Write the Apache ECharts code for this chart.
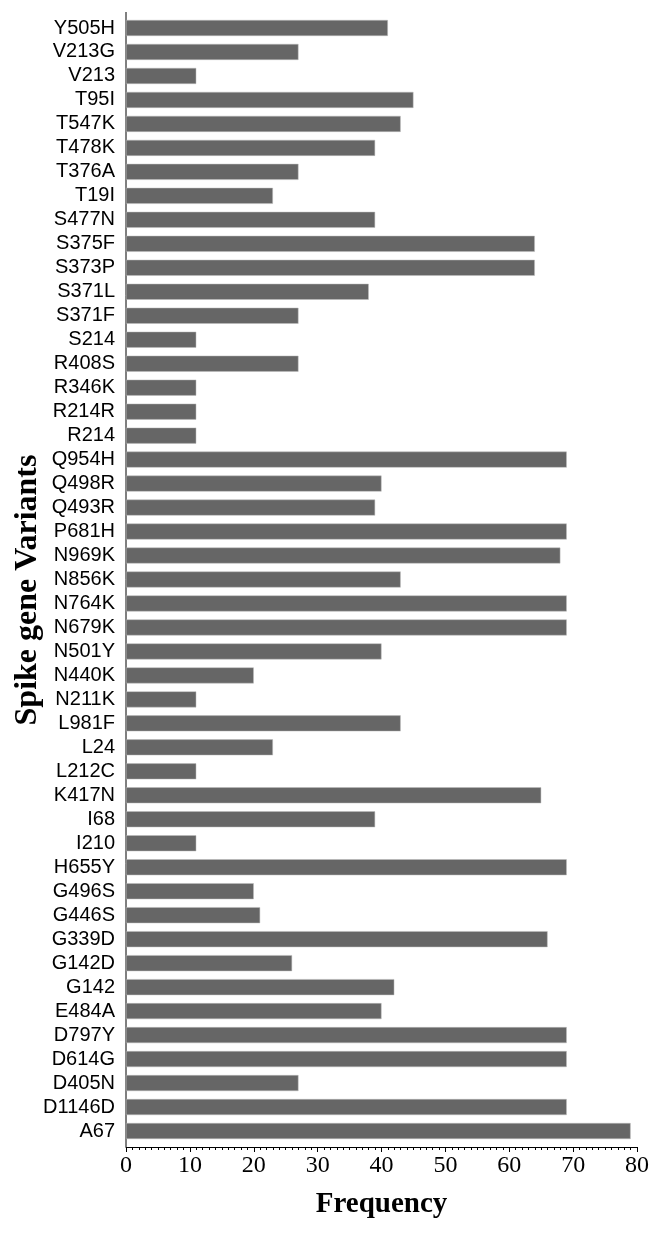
<!DOCTYPE html>
<html>
<head>
<meta charset="utf-8">
<script src="https://cdn.jsdelivr.net/npm/echarts@6/dist/echarts.min.js"></script>
<style>
html,body{margin:0;padding:0;background:#fff;}
#chart{width:664px;height:1235px;}
</style>
</head>
<body>
<div id="chart"></div>
<script>
var variants = ["Y505H","V213G","V213","T95I","T547K","T478K","T376A","T19I","S477N","S375F","S373P","S371L","S371F","S214","R408S","R346K","R214R","R214","Q954H","Q498R","Q493R","P681H","N969K","N856K","N764K","N679K","N501Y","N440K","N211K","L981F","L24","L212C","K417N","I68","I210","H655Y","G496S","G446S","G339D","G142D","G142","E484A","D797Y","D614G","D405N","D1146D","A67"];
var frequency = [41,27,11,45,43,39,27,23,39,64,64,38,27,11,27,11,11,11,69,40,39,69,68,43,69,69,40,20,11,43,23,11,65,39,11,69,20,21,66,26,42,40,69,69,27,69,79];
var xTicks = {min:0, max:80, interval:10};

var chart = echarts.init(document.getElementById('chart'), null, {renderer:'canvas'});
chart.setOption({
  animation:false,
  backgroundColor:'#ffffff',
  grid:{left:126, right:27, top:16, bottom:92, containLabel:false},
  xAxis:{
    type:'value', min:xTicks.min, max:xTicks.max, interval:xTicks.interval,
    offset:4,
    name:'Frequency', nameLocation:'middle', nameGap:43,
    nameTextStyle:{fontFamily:'Liberation Serif', fontWeight:'bold', fontSize:29, color:'#000'},
    axisLine:{show:true, lineStyle:{color:'#000', width:1}},
    axisTick:{show:true, inside:false, length:5, lineStyle:{color:'#000'}},
    minorTick:{show:true, splitNumber:10, length:3, lineStyle:{color:'#000'}},
    splitLine:{show:false},
    axisLabel:{fontFamily:'Liberation Serif', fontSize:24, color:'#000', margin:7}
  },
  yAxis:{
    type:'category', data:variants, inverse:true,
    axisLine:{show:false},
    axisTick:{show:false},
    axisLabel:{interval:0, fontFamily:'Liberation Sans', fontSize:20, color:'#000', margin:11}
  },
  graphic:[
    {type:'line', shape:{x1:126, y1:12, x2:126, y2:1147}, style:{stroke:'#000', lineWidth:1}},
    {type:'text', x:28, y:590, rotation:Math.PI/2,
     style:{text:'Spike gene Variants', fontFamily:'Liberation Serif', fontWeight:'bold', fontSize:32, fill:'#000', align:'center', verticalAlign:'middle'}}
  ],
  series:[{
    type:'bar', data:frequency, barWidth:16,
    itemStyle:{color:'#666666', borderColor:'#bdbdbd', borderWidth:0.5}
  }]
});
</script>
</body>
</html>
